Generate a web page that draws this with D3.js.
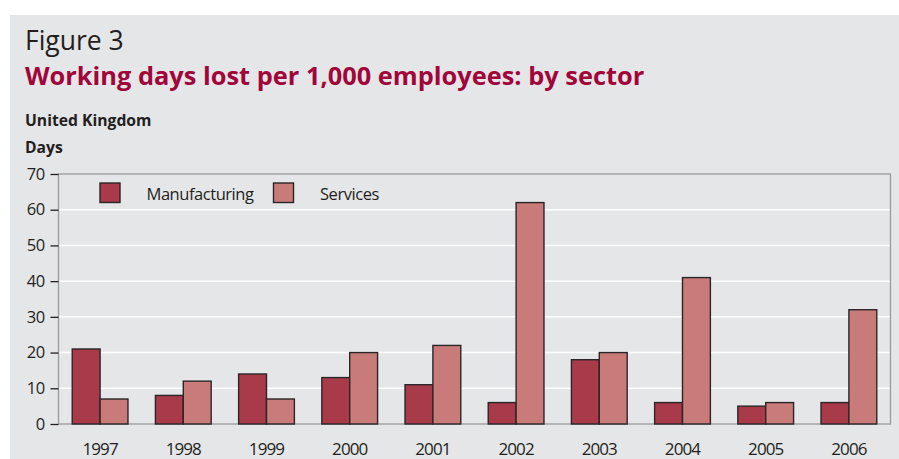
<!DOCTYPE html>
<html>
<head>
<meta charset="utf-8">
<script src="https://cdn.jsdelivr.net/npm/d3@7"></script>
<style>
  html, body { margin: 0; padding: 0; background: #ffffff; }
  svg { display: block; }
  text { font-family: "Open Sans", "Noto Sans", sans-serif; }
</style>
</head>
<body>
<svg id="chart" width="899" height="459"></svg>
<script>
// Working days lost per 1,000 employees, United Kingdom
const years = ["1997", "1998", "1999", "2000", "2001", "2002", "2003", "2004", "2005", "2006"];
const seriesNames = ["Manufacturing", "Services"];
const manufacturing = [21, 8, 14, 13, 11, 6, 18, 6, 5, 6];
const services = [7, 12, 7, 20, 22, 62, 20, 41, 6, 32];
const yTicks = [0, 10, 20, 30, 40, 50, 60, 70];

const colors = { Manufacturing: "#a93a4a", Services: "#c97b7a" };

const svg = d3.select("#chart");
const W = 899, H = 459;
const margin = { left: 58.5, top: 174, right: W - 890.5, bottom: H - 424 };

// panel background
svg.append("rect").attr("x", 10).attr("y", 15).attr("width", W - 10).attr("height", H - 15)
  .attr("fill", "#e5e6e8");

// headings
svg.append("text").attr("x", 25).attr("y", 50).attr("font-size", 26.5)
  .attr("fill", "#231f20").text("Figure 3");
svg.append("text").attr("x", 25).attr("y", 85).attr("font-size", 25.4).attr("font-weight", 700)
  .attr("fill", "#a0063a").text("Working days lost per 1,000 employees: by sector");
svg.append("text").attr("x", 25).attr("y", 126).attr("font-size", 15.7).attr("font-weight", 700)
  .attr("fill", "#231f20").text("United Kingdom");
svg.append("text").attr("x", 25).attr("y", 153).attr("font-size", 15.7).attr("font-weight", 700)
  .attr("fill", "#231f20").text("Days");

const x0 = d3.scaleBand().domain(years).range([margin.left, W - margin.right]).paddingInner(0.33).paddingOuter(0.165);
const x1 = d3.scaleBand().domain(seriesNames).range([0, x0.bandwidth()]);
const y = d3.scaleLinear().domain([0, 70]).range([H - margin.bottom, margin.top]);

// gridlines
svg.append("g").selectAll("line").data(yTicks.filter(t => t > 0 && t < 70)).join("line")
  .attr("x1", margin.left).attr("x2", W - margin.right)
  .attr("y1", d => y(d)).attr("y2", d => y(d))
  .attr("stroke", "#ffffff").attr("stroke-width", 1.5);

// plot frame
svg.append("rect").attr("x", margin.left).attr("y", y(70))
  .attr("width", W - margin.right - margin.left).attr("height", y(0) - y(70))
  .attr("fill", "none").attr("stroke", "#9b9b9b").attr("stroke-width", 1.3);

// bars
const rows = years.map((yr, i) => ({ year: yr, values: [
  { key: "Manufacturing", value: manufacturing[i] },
  { key: "Services", value: services[i] }
] }));

svg.append("g").selectAll("g").data(rows).join("g")
  .attr("transform", d => `translate(${x0(d.year)},0)`)
  .selectAll("rect").data(d => d.values).join("rect")
  .attr("x", d => x1(d.key)).attr("width", x1.bandwidth())
  .attr("y", d => y(d.value)).attr("height", d => y(0) - y(d.value))
  .attr("fill", d => colors[d.key]).attr("stroke", "#2a2627").attr("stroke-width", 1.4);

// y axis
const yAxis = d3.axisLeft(y).tickValues(yTicks).tickSize(8).tickPadding(6).tickFormat(d3.format("d"));
const gy = svg.append("g").attr("transform", `translate(${margin.left},0)`).call(yAxis);
gy.select(".domain").remove();
gy.selectAll(".tick line").attr("stroke", "#231f20").attr("stroke-width", 1.3);
gy.selectAll(".tick text").attr("font-size", 16.5).attr("fill", "#231f20")
  .attr("letter-spacing", -0.6)
  .attr("font-family", "\"Open Sans\", sans-serif");

// x axis labels
const xAxis = d3.axisBottom(x0).tickSize(0).tickPadding(19);
const gx = svg.append("g").attr("transform", `translate(0,${y(0)})`).call(xAxis);
gx.select(".domain").remove();
gx.selectAll(".tick text").attr("font-size", 17).attr("fill", "#231f20")
  .attr("letter-spacing", -0.9)
  .attr("font-family", "\"Open Sans\", sans-serif");

// legend
const legendPos = [{ key: "Manufacturing", sx: 100, tx: 146.5 }, { key: "Services", sx: 273.5, tx: 320 }];
const lg = svg.append("g");
lg.selectAll("rect").data(legendPos).join("rect")
  .attr("x", d => d.sx).attr("y", 183).attr("width", 20).attr("height", 19.5)
  .attr("fill", d => colors[d.key]).attr("stroke", "#2a2627").attr("stroke-width", 1.4);
lg.selectAll("text").data(legendPos).join("text")
  .attr("x", d => d.tx).attr("y", 199.5).attr("font-size", 16.5).attr("fill", "#231f20")
  .attr("letter-spacing", -0.45)
  .text(d => d.key);
</script>
</body>
</html>
